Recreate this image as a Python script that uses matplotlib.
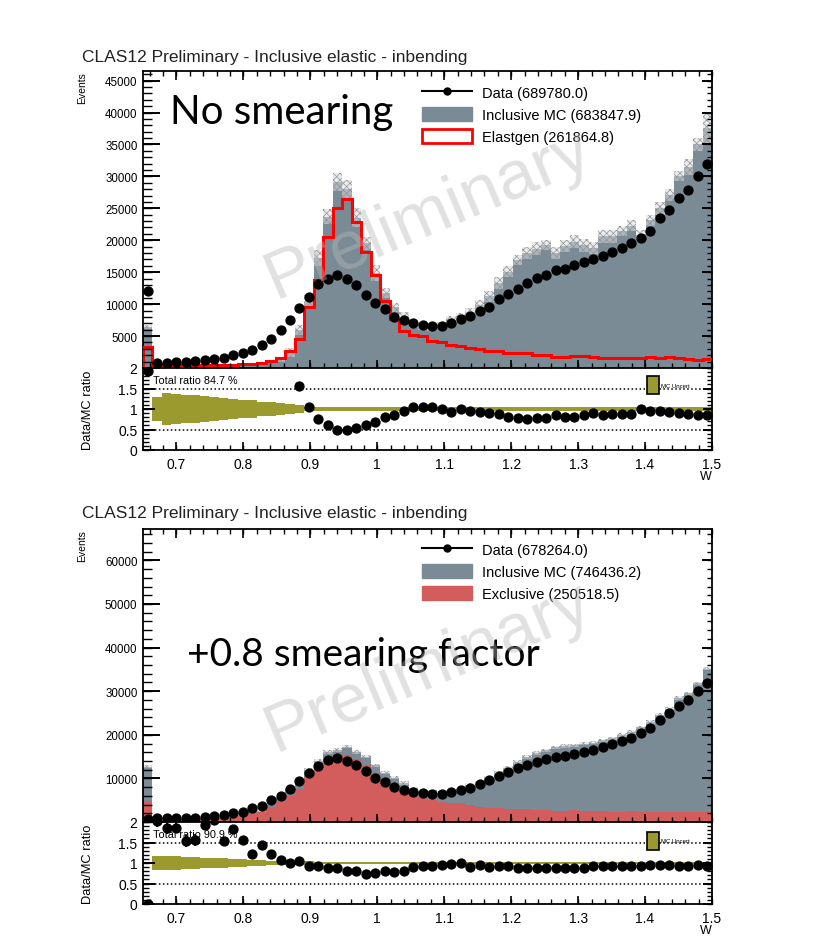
import numpy as np
import matplotlib
matplotlib.use('Agg')
import matplotlib.pyplot as plt
from matplotlib.ticker import FuncFormatter
from matplotlib.lines import Line2D
from matplotlib.patches import Patch, Rectangle

plt.rcParams['font.family'] = ['Liberation Sans', 'DejaVu Sans']
plt.rcParams['axes.linewidth'] = 1.3
plt.rcParams['hatch.linewidth'] = 0.5

nan = np.nan

# W binning: 60 bins from 0.65 to 1.5
w_lo, w_hi, n_bins = 0.65, 1.5, 60

# ---------------- no smearing (counts in thousands) ----------------
data_nosm = [12.1, 0.8, 0.85, 0.95, 1.0, 1.1, 1.25, 1.45, 1.6, 2.0,
             2.3, 2.85, 3.6, 4.6, 5.9, 7.5, 9.4, 11.1, 13.2, 14.0,
             14.5, 13.9, 13.0, 11.5, 10.1, 9.2, 8.0, 7.5, 7.1, 6.7,
             6.5, 6.6, 7.0, 7.6, 8.1, 8.9, 9.6, 10.8, 11.6, 12.4,
             13.3, 14.05, 14.6, 15.3, 15.5, 16.1, 16.6, 17.1, 17.6, 18.2,
             18.8, 19.6, 20.3, 21.5, 23.5, 24.8, 26.6, 27.9, 30.0, 32.0]
mc_nosm = [6.4, 0.25, 0.22, 0.22, 0.25, 0.28, 0.3, 0.35, 0.4, 0.5,
           0.55, 0.65, 0.75, 1.0, 1.4, 2.5, 5.9, 10.4, 17.2, 23.7,
           29.1, 28.0, 23.5, 19.5, 14.9, 11.8, 9.5, 7.9, 6.8, 6.45,
           6.3, 6.7, 7.5, 7.8, 8.6, 9.8, 11.2, 13.3, 15.1, 16.9,
           18.0, 18.7, 19.2, 18.0, 19.1, 19.8, 19.2, 18.8, 20.6, 20.6,
           21.5, 22.3, 20.9, 23.1, 25.0, 27.1, 30.0, 31.5, 35.0, 37.6]
mc_err_nosm = [0.3, 0.1, 0.1, 0.1, 0.1, 0.1, 0.1, 0.1, 0.1, 0.1,
               0.15, 0.15, 0.2, 0.2, 0.4, 0.7, 0.8, 1.0, 1.3, 1.2,
               1.4, 1.4, 1.5, 1.0, 1.3, 0.8, 0.7, 0.8, 0.5, 0.5,
               0.5, 0.5, 0.6, 0.8, 0.8, 0.8, 0.8, 1.0, 0.8, 0.8,
               1.0, 1.0, 0.8, 1.0, 1.0, 1.0, 1.0, 1.0, 1.0, 1.0,
               0.8, 0.8, 0.7, 0.8, 1.0, 1.0, 0.8, 1.3, 1.0, 2.3]
elastgen = [3.3, 0.4, 0.4, 0.4, 0.4, 0.4, 0.4, 0.4, 0.45, 0.5,
            0.55, 0.6, 0.8, 1.15, 1.5, 2.6, 4.5, 9.5, 13.7, 20.5,
            25.0, 26.5, 22.8, 18.2, 14.5, 10.5, 7.7, 5.85, 5.1, 5.0,
            4.2, 4.1, 3.6, 3.5, 3.1, 3.0, 2.7, 2.6, 2.4, 2.35,
            2.3, 2.0, 2.0, 1.8, 1.8, 1.85, 1.9, 1.75, 1.6, 1.6,
            1.55, 1.5, 1.5, 1.7, 1.5, 1.65, 1.5, 1.45, 1.3, 1.35]
ratio_nosm = [1.92, nan, nan, nan, nan, nan, nan, nan, nan, nan,
              nan, nan, nan, nan, nan, nan, 1.55, 1.05, 0.75, 0.60,
              0.50, 0.50, 0.54, 0.60, 0.68, 0.81, 0.85, 0.95, 1.05, 1.04,
              1.04, 0.99, 0.93, 0.99, 0.95, 0.93, 0.91, 0.89, 0.81, 0.78,
              0.75, 0.77, 0.77, 0.85, 0.81, 0.81, 0.85, 0.91, 0.86, 0.89,
              0.89, 0.89, 0.99, 0.95, 0.95, 0.93, 0.91, 0.89, 0.85, 0.85]
ratio_err_nosm = [0.05] + [0.02] * 59
band_nosm = [0.0, 0.30, 0.38, 0.37, 0.35, 0.34, 0.32, 0.30, 0.28, 0.25,
             0.23, 0.21, 0.18, 0.16, 0.14, 0.11, 0.09, 0.06, 0.05, 0.05] + [0.045] * 26 + [0.04] * 14

# ---------------- +0.8 smearing (counts in thousands) ----------------
data_sm = [0.6, 0.85, 0.85, 1.0, 1.0, 1.0, 1.1, 1.3, 1.5, 1.98,
           2.4, 3.1, 3.75, 5.0, 6.0, 7.6, 9.4, 11.2, 12.9, 14.2,
           14.6, 14.0, 13.0, 11.7, 10.2, 9.1, 8.1, 7.4, 6.9, 6.6,
           6.4, 6.4, 6.8, 7.3, 7.9, 8.7, 9.6, 10.5, 11.5, 12.3,
           13.1, 13.8, 14.4, 15.0, 15.2, 15.7, 16.1, 16.6, 17.3, 17.9,
           18.6, 19.3, 20.3, 21.5, 23.4, 24.9, 26.6, 27.9, 30.0, 31.9]
mc_sm = [12.7, 0.42, 0.46, 0.54, 0.65, 0.64, 0.57, 0.63, 0.97, 1.09,
         1.54, 2.5, 2.6, 4.1, 5.6, 7.6, 9.0, 12.0, 14.0, 16.0,
         16.5, 17.3, 16.0, 15.0, 13.0, 11.3, 10.2, 9.0, 7.7, 7.1,
         6.9, 6.7, 7.0, 7.4, 8.5, 9.0, 10.2, 11.2, 12.4, 13.8,
         14.9, 15.8, 16.4, 17.1, 17.4, 17.6, 18.0, 18.2, 18.7, 19.2,
         19.9, 20.6, 21.7, 22.9, 24.5, 26.0, 28.4, 29.5, 31.8, 35.2]
mc_err_sm = [0.4] + [0.05] * 10 + [0.2] * 5 + [0.4] * 44
exclusive = [4.7, 0.38, 0.42, 0.48, 0.58, 0.58, 0.52, 0.57, 0.85, 0.95,
             1.35, 2.1, 2.3, 3.4, 4.6, 6.0, 7.6, 10.2, 12.6, 14.4,
             15.3, 15.3, 14.5, 13.0, 11.3, 9.8, 8.4, 7.3, 6.4, 5.7,
             5.0, 4.6, 4.4, 4.4, 3.8, 3.5, 3.3, 3.1, 3.0, 2.9,
             2.9, 2.8, 2.7, 2.6, 2.6, 2.7, 2.6, 2.5, 2.5, 2.4,
             2.4, 2.5, 2.4, 2.3, 2.3, 2.2, 2.3, 2.2, 2.3, 2.3]
ratio_sm = [0.0, 2.02, 1.85, 1.85, 1.54, 1.56, 1.92, 2.05, 1.54, 1.82,
            1.56, 1.22, 1.43, 1.22, 1.08, 1.0, 1.04, 0.93, 0.92, 0.885,
            0.885, 0.80, 0.80, 0.735, 0.76, 0.80, 0.78, 0.815, 0.91, 0.93,
            0.93, 0.95, 0.97, 0.99, 0.91, 0.95, 0.91, 0.93, 0.92, 0.89,
            0.87, 0.87, 0.87, 0.87, 0.87, 0.88, 0.88, 0.92, 0.93, 0.93,
            0.93, 0.93, 0.93, 0.94, 0.95, 0.95, 0.93, 0.93, 0.95, 0.92]
ratio_err_sm = [0.02, 0.15, 0.15, 0.12, 0.14, 0.14, 0.12, 0.12, 0.1, 0.1,
                0.09] + [0.05] * 5 + [0.02] * 44
band_sm = [0.0, 0.17, 0.17, 0.16, 0.15, 0.14, 0.13, 0.12, 0.11, 0.10,
           0.09, 0.08, 0.07, 0.06, 0.055, 0.05, 0.045, 0.04, 0.035, 0.03] + [0.03] * 26 + [0.025] * 14

edges = np.linspace(w_lo, w_hi, n_bins + 1)
centers = 0.5 * (edges[:-1] + edges[1:])

grey = '#7a8b96'
olive = '#9a9a2e'
excl_red = '#d35c5c'

fig_w, fig_h = 818, 953
fig = plt.figure(figsize=(fig_w / 100, fig_h / 100), dpi=100)


def g_fmt(v, pos):
    return '%g' % v


def seg(x0, y0, x1, y1, lw):
    # a tick mark in figure pixels (origin bottom-left), drawn on top of all axes
    fig.add_artist(Line2D([x0 / fig_w, x1 / fig_w], [y0 / fig_h, y1 / fig_h],
                          transform=fig.transFigure, color='k', lw=lw,
                          solid_capstyle='butt', zorder=30))


def frame_ticks(ax, ystep, yminor, left_px, right_px, top=True):
    """ROOT-like inward tick marks (sizes in pixels)."""
    ax.set_xlim(w_lo, w_hi)
    y0, y1 = ax.get_ylim()
    ymaj = np.arange(0, y1 + 1e-9, ystep)
    ymin = np.arange(0, y1 + 1e-9, yminor)
    xmaj = np.arange(0.7, w_hi + 1e-9, 0.1)
    xmin = np.arange(0.66, w_hi + 1e-9, 0.02)
    ax.set_xticks(xmaj)
    ax.set_yticks(ymaj[ymaj > 0] if top else ymaj)
    ax.tick_params(axis='both', which='both', length=0)
    ax.tick_params(axis='y', pad=4)
    ax.tick_params(axis='x', pad=5)

    pos = ax.get_position()
    xl, xr = pos.x0 * fig_w, pos.x1 * fig_w
    yb, yt = pos.y0 * fig_h, pos.y1 * fig_h
    to_py = lambda v: yb + (v - y0) / (y1 - y0) * (yt - yb)
    to_px = lambda v: xl + (v - w_lo) / (w_hi - w_lo) * (xr - xl)
    for v in ymin:
        seg(xl, to_py(v), xl + 0.52 * left_px, to_py(v), 1.0)
        seg(xr - 0.55 * right_px, to_py(v), xr, to_py(v), 1.0)
    for v in ymaj:
        seg(xl, to_py(v), xl + left_px, to_py(v), 1.4)
        seg(xr - right_px, to_py(v), xr, to_py(v), 1.4)
    for v in xmin:
        seg(to_px(v), yb, to_px(v), yb + 5, 1.0)
        if top:
            seg(to_px(v), yt - 5, to_px(v), yt, 1.0)
    for v in xmaj:
        seg(to_px(v), yb, to_px(v), yb + 8, 1.2)
        if top:
            seg(to_px(v), yt - 9, to_px(v), yt, 1.2)


def main_panel(rect, data, mc, mc_err, ymax, legend_items, leg_y, title_y):
    ax = fig.add_axes(rect)
    data = np.asarray(data) * 1000
    mc = np.asarray(mc) * 1000
    err = np.asarray(mc_err) * 1000
    ax.stairs(mc, edges, fill=True, color=grey, lw=0, zorder=1)
    ax.stairs(mc + err, edges, baseline=mc - err, fill=True, facecolor=(0.86, 0.86, 0.86, 0.55),
              edgecolor='#8f969b', hatch='xxxxx', lw=0, zorder=1.2)
    ax.plot(centers, data, 'o', color='k', ms=6.4, zorder=6)
    ax.set_ylim(0, ymax)
    ax.yaxis.set_major_formatter(FuncFormatter(g_fmt))
    ax.tick_params(axis='y', labelsize=8.3)
    ax.tick_params(axis='x', labelbottom=False)
    ax.set_ylabel('Events', loc='top', fontsize=7.5)
    ax.yaxis.set_label_coords(-0.098, 1.0)
    leg = ax.legend(handles=legend_items[0], labels=legend_items[1], loc='upper left',
                    bbox_to_anchor=(0.48, leg_y), frameon=False, fontsize=10.5,
                    handlelength=3.4, handleheight=1.1, handletextpad=0.7, labelspacing=0.5,
                    borderaxespad=0)
    leg.set_zorder(8)
    fig.text(82 / fig_w, 1 - title_y / fig_h, 'CLAS12 Preliminary - Inclusive elastic - inbending',
             fontsize=12.5, color='#222222', va='baseline')
    return ax


def ratio_panel(rect, ratio, ratio_err, band, total_txt, box_y):
    ax = fig.add_axes(rect)
    for lvl in (0.5, 1.0, 1.5):
        ax.axhline(lvl, color='k', ls=(0, (1, 1.6)), lw=1.1, zorder=0.8)
    band = np.asarray(band)
    ax.stairs(1 + band, edges, baseline=1 - band, fill=True, color=olive, lw=0, zorder=1)
    ax.errorbar(centers, ratio, yerr=ratio_err, fmt='o', color='k', ms=6.4,
                elinewidth=1.3, capsize=0, zorder=5)
    ax.set_ylim(0, 2)
    ax.xaxis.set_major_formatter(FuncFormatter(g_fmt))
    ax.yaxis.set_major_formatter(FuncFormatter(g_fmt))
    ax.tick_params(axis='both', labelsize=10)
    ax.set_ylabel('Data/MC ratio', fontsize=9.3)
    ax.yaxis.set_label_coords(-0.086, 0.5)
    ax.set_xlabel('W', fontsize=9, loc='right')
    ax.xaxis.set_label_coords(1.0, -0.245)
    ax.text(0.017, 0.85, total_txt, transform=ax.transAxes, fontsize=7.8, va='center', zorder=3)
    ax.add_patch(Rectangle((0.886, box_y), 0.021, 0.22, transform=ax.transAxes,
                           facecolor=olive, edgecolor='k', lw=1.2, zorder=7))
    ax.text(0.91, box_y + 0.11, 'MC Uncert', transform=ax.transAxes, fontsize=4.3,
            va='center', zorder=7)
    return ax


# ---- upper plot: no smearing ----
h_data = Line2D([0], [0], color='k', marker='o', ms=5, lw=1.5)
h_inc = Patch(facecolor=grey, edgecolor=grey)
h_ela = Patch(facecolor='white', edgecolor='red', lw=2)
ax1 = main_panel([143 / fig_w, 1 - 369 / fig_h, 569 / fig_w, 297 / fig_h], data_nosm, mc_nosm,
                 mc_err_nosm, 46500,
                 ([h_data, h_inc, h_ela],
                  ['Data (689780.0)', 'Inclusive MC (683847.9)', 'Elastgen (261864.8)']), 0.973, 62)
ax1.stairs(np.asarray(elastgen) * 1000, edges, color='red', lw=2.2, zorder=4)
ax1.axhline(0, color=olive, lw=1.5, zorder=5)
ax1.text(0.048, 0.825, 'No smearing', transform=ax1.transAxes, fontsize=29,
         family=['Lato', 'DejaVu Sans'], va='baseline', zorder=7)
frame_ticks(ax1, 5000, 1000, 17, 10)

r1 = ratio_panel([143 / fig_w, 1 - 451 / fig_h, 569 / fig_w, 82 / fig_h], ratio_nosm, ratio_err_nosm,
                 band_nosm, 'Total ratio 84.7 %', 0.68)
frame_ticks(r1, 0.5, 0.1, 12, 9, top=False)

# ---- lower plot: +0.8 smearing factor ----
h_exc = Patch(facecolor=excl_red, edgecolor=excl_red)
ax2 = main_panel([143 / fig_w, 1 - 823 / fig_h, 569 / fig_w, 293 / fig_h], data_sm, mc_sm,
                 mc_err_sm, 67200,
                 ([h_data, h_inc, h_exc],
                  ['Data (678264.0)', 'Inclusive MC (746436.2)', 'Exclusive (250518.5)']), 0.976, 518)
ax2.stairs(np.asarray(exclusive) * 1000, edges, fill=True, color=excl_red, lw=0, zorder=1.4)
ax2.axhline(0, color='#c01010', lw=2, zorder=5)
ax2.text(0.077, 0.535, '+0.8 smearing factor', transform=ax2.transAxes, fontsize=28,
         family=['Lato', 'DejaVu Sans'], va='baseline', zorder=7)
frame_ticks(ax2, 10000, 2000, 17, 10)

r2 = ratio_panel([143 / fig_w, 1 - 905 / fig_h, 569 / fig_w, 82 / fig_h], ratio_sm, ratio_err_sm,
                 band_sm, 'Total ratio 90.9 %', 0.66)
frame_ticks(r2, 0.5, 0.1, 12, 9, top=False)

# watermark over both plots
for cy in (215, 668):
    fig.text(428 / fig_w, 1 - cy / fig_h, 'Preliminary', fontsize=50, rotation=23,
             color=(0.72, 0.72, 0.72), alpha=0.42, ha='center', va='center', zorder=20)

fig.savefig('out.png', dpi=100)
